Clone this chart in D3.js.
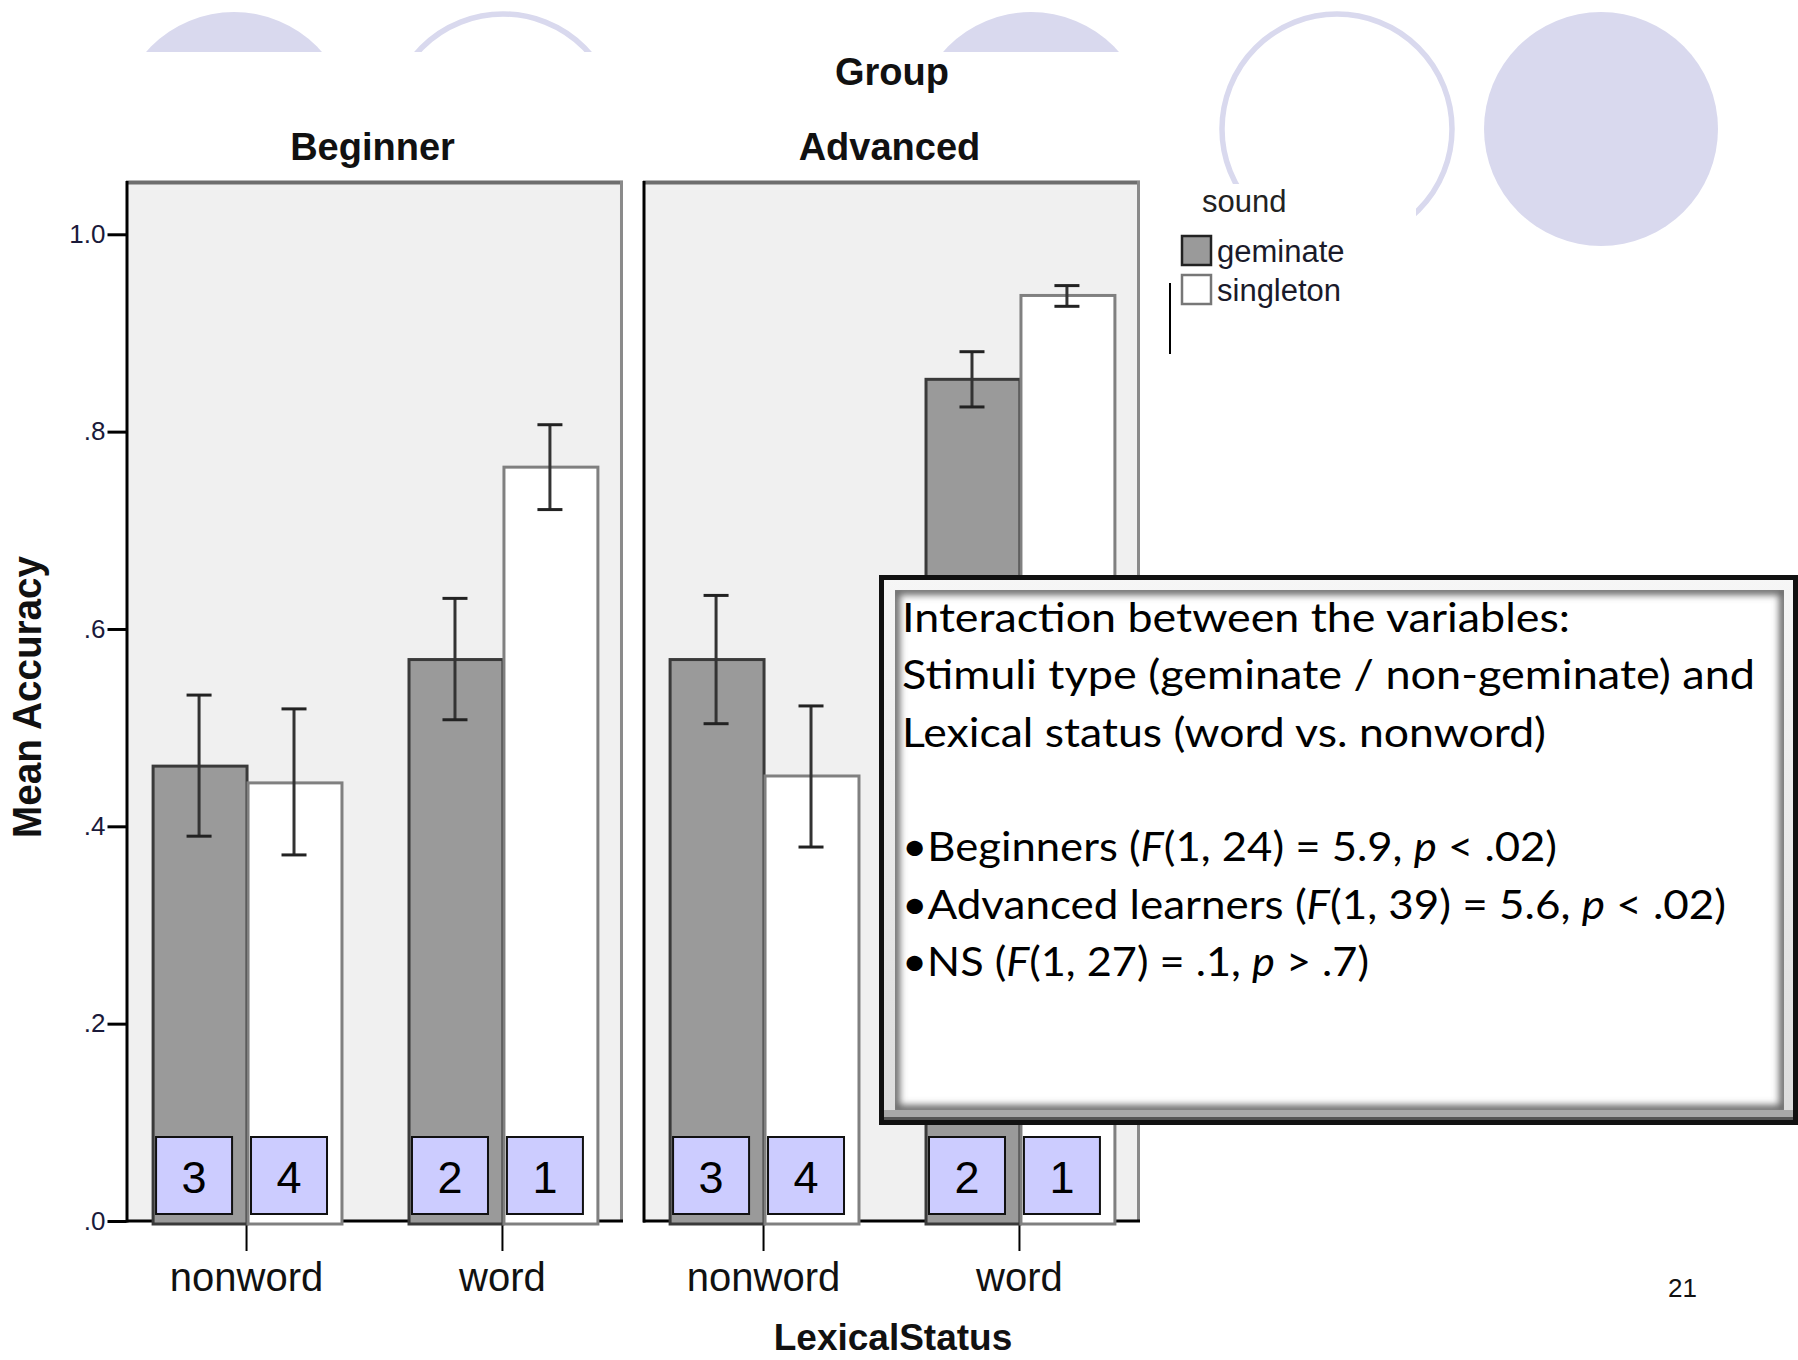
<!DOCTYPE html>
<html>
<head>
<meta charset="utf-8">
<script src="https://cdn.jsdelivr.net/npm/d3@7"></script>
<style>
  html, body { margin: 0; padding: 0; background: #ffffff; }
  svg { display: block; }
</style>
</head>
<body>
<script>
// ---------------- DATA ----------------
const groups = ["Beginner", "Advanced"];
const categories = ["nonword", "word"];
const sounds = ["geminate", "singleton"];

// mean accuracy per category (nonword, word)
const beginnerGeminate  = [0.461, 0.569];
const beginnerSingleton = [0.444, 0.764];
const advancedGeminate  = [0.569, 0.853];
const advancedSingleton = [0.451, 0.938];

// error bar lower / upper bounds (nonword, word)
const beginnerGeminateLo  = [0.390, 0.508];
const beginnerGeminateHi  = [0.533, 0.631];
const beginnerSingletonLo = [0.371, 0.721];
const beginnerSingletonHi = [0.519, 0.807];
const advancedGeminateLo  = [0.504, 0.825];
const advancedGeminateHi  = [0.634, 0.881];
const advancedSingletonLo = [0.379, 0.927];
const advancedSingletonHi = [0.522, 0.948];

// rank annotation labels per category (geminate, singleton)
const rankNonword = ["3", "4"];
const rankWord = ["2", "1"];

const yTicks = [0, 0.2, 0.4, 0.6, 0.8, 1.0];
const yTickLabels = [".0", ".2", ".4", ".6", ".8", "1.0"];

const boxLines = [
  "Interaction between the variables:",
  "Stimuli type (geminate / non-geminate) and",
  "Lexical status (word vs. nonword)",
  "",
  "•Beginners (*F*(1, 24) = 5.9, *p* < .02)",
  "•Advanced learners (*F*(1, 39) = 5.6, *p* < .02)",
  "•NS (*F*(1, 27) = .1, *p* > .7)"
];
const boxLineWidths = [668, 853, 644, 0, 655, 824, 467];

// build table
const table = {
  Beginner: {
    geminate:  { mean: beginnerGeminate,  lo: beginnerGeminateLo,  hi: beginnerGeminateHi },
    singleton: { mean: beginnerSingleton, lo: beginnerSingletonLo, hi: beginnerSingletonHi }
  },
  Advanced: {
    geminate:  { mean: advancedGeminate,  lo: advancedGeminateLo,  hi: advancedGeminateHi },
    singleton: { mean: advancedSingleton, lo: advancedSingletonLo, hi: advancedSingletonHi }
  }
};
const ranks = { nonword: rankNonword, word: rankWord };

const records = [];
groups.forEach(g => categories.forEach((c, ci) => sounds.forEach((s, si) => {
  records.push({ group: g, cat: c, sound: s,
    mean: table[g][s].mean[ci], lo: table[g][s].lo[ci], hi: table[g][s].hi[ci],
    rank: ranks[c][si] });
})));

// ---------------- LAYOUT ----------------
const W = 1798, H = 1360;
const SANS = "'Liberation Sans', Arial, sans-serif";
const BOX_FONT = "Lato, 'Open Sans', sans-serif";
const LAV = "#d9d9ee";

const svg = d3.select("body").append("svg").attr("width", W).attr("height", H);
const defs = svg.append("defs");

// background decoration: slide template circles
const deco = svg.append("g");
[[234, true], [503, false], [1031, true], [1337, false], [1601, true]].forEach(([cx, filled]) => {
  if (filled) deco.append("circle").attr("cx", cx).attr("cy", 129).attr("r", 117).attr("fill", LAV);
  else deco.append("circle").attr("cx", cx).attr("cy", 129).attr("r", 115)
    .attr("fill", "none").attr("stroke", LAV).attr("stroke-width", 5.5);
});
// white chart image areas over decoration
svg.append("rect").attr("x", 0).attr("y", 52).attr("width", 1216).attr("height", H - 52).attr("fill", "#fff");
svg.append("rect").attr("x", 1160).attr("y", 184).attr("width", 256).attr("height", H - 184).attr("fill", "#fff");

// scales
const panelTop = 181, baseY = 1221;
const y = d3.scaleLinear().domain([0, 1.054]).range([baseY, panelTop]);
const fx = d3.scaleBand().domain(groups).range([126, 1140]).paddingInner(0.0387);
const pw = fx.bandwidth();
const x0 = d3.scaleBand().domain(categories).range([0, pw]).paddingInner(0.258).paddingOuter(0.1);
const x1 = d3.scaleBand().domain(sounds).range([0, x0.bandwidth()]);
const fill = d3.scaleOrdinal().domain(sounds).range(["#9a9a9a", "#ffffff"]);
const edge = d3.scaleOrdinal().domain(sounds).range(["#3a3a3a", "#808080"]);

// titles
svg.append("text").attr("x", 892).attr("y", 85).attr("text-anchor", "middle")
  .attr("font-family", SANS).attr("font-weight", "bold").attr("font-size", 38).attr("fill", "#111").text("Group");

groups.forEach(g => {
  const px = fx(g);
  const pg = svg.append("g").attr("transform", `translate(${px},0)`);
  pg.append("text").attr("x", pw / 2 - 2).attr("y", 160).attr("text-anchor", "middle")
    .attr("font-family", SANS).attr("font-weight", "bold").attr("font-size", 38).attr("fill", "#111").text(g);

  // panel background
  pg.append("rect").attr("x", 0).attr("y", panelTop).attr("width", pw).attr("height", baseY - panelTop)
    .attr("fill", "#f0f0f0");
  // top & right border (gray), left border (black)
  pg.append("line").attr("x1", 0).attr("x2", pw).attr("y1", panelTop + 1.5).attr("y2", panelTop + 1.5)
    .attr("stroke", "#6e6e6e").attr("stroke-width", 4);
  pg.append("line").attr("x1", pw - 1.5).attr("x2", pw - 1.5).attr("y1", panelTop).attr("y2", baseY)
    .attr("stroke", "#8a8a8a").attr("stroke-width", 3);
  pg.append("line").attr("x1", 1).attr("x2", 1).attr("y1", panelTop).attr("y2", baseY + 1.5)
    .attr("stroke", "#000").attr("stroke-width", 3);

  // x axis
  const xa = pg.append("g").attr("transform", `translate(0,${baseY})`)
    .call(d3.axisBottom(x0).tickSize(30).tickPadding(12));
  xa.select(".domain").remove();
  xa.selectAll(".tick line").attr("stroke", "#000").attr("stroke-width", 2);
  xa.selectAll(".tick text").attr("font-family", SANS).attr("font-size", 40).attr("fill", "#111");
  pg.append("line").attr("x1", 0).attr("x2", pw).attr("y1", baseY).attr("y2", baseY)
    .attr("stroke", "#000").attr("stroke-width", 3);

  const recs = records.filter(r => r.group === g);
  const bx = r => x0(r.cat) + x1(r.sound);

  // bars
  pg.selectAll("rect.bar").data(recs).join("rect").attr("class", "bar")
    .attr("x", r => bx(r) + 1.5).attr("y", r => y(r.mean))
    .attr("width", x1.bandwidth() - 1).attr("height", r => y(0) - y(r.mean) + 3)
    .attr("fill", r => fill(r.sound)).attr("stroke", r => edge(r.sound)).attr("stroke-width", 3);

  // error bars
  const eb = pg.selectAll("g.err").data(recs).join("g").attr("class", "err")
    .attr("transform", r => `translate(${bx(r) + x1.bandwidth() / 2},0)`);
  eb.append("line").attr("x1", 0).attr("x2", 0).attr("y1", r => y(r.lo)).attr("y2", r => y(r.hi))
    .attr("stroke", "#333").attr("stroke-width", 3);
  eb.append("line").attr("x1", -12.5).attr("x2", 12.5).attr("y1", r => y(r.lo)).attr("y2", r => y(r.lo))
    .attr("stroke", "#222").attr("stroke-width", 3);
  eb.append("line").attr("x1", -12.5).attr("x2", 12.5).attr("y1", r => y(r.hi)).attr("y2", r => y(r.hi))
    .attr("stroke", "#222").attr("stroke-width", 3);

  // rank boxes
  const rb = pg.selectAll("g.rank").data(recs).join("g").attr("class", "rank")
    .attr("transform", r => `translate(${bx(r) + x1.bandwidth() / 2 - 5},0)`);
  rb.append("rect").attr("x", -38).attr("y", 1137).attr("width", 76).attr("height", 77)
    .attr("fill", "#ccccff").attr("stroke", "#111").attr("stroke-width", 2);
  rb.append("text").attr("x", 0).attr("y", 1193).attr("text-anchor", "middle")
    .attr("font-family", SANS).attr("font-size", 45).attr("fill", "#000").text(r => r.rank);
});

// y axis
const ya = svg.append("g").attr("transform", `translate(${fx(groups[0]) + 0.5},0)`)
  .call(d3.axisLeft(y).tickValues(yTicks).tickFormat((d, i) => yTickLabels[i]).tickSize(19).tickPadding(2));
ya.select(".domain").remove();
ya.selectAll(".tick line").attr("stroke", "#000").attr("stroke-width", 3);
ya.selectAll(".tick text").attr("font-family", SANS).attr("font-size", 26).attr("fill", "#1a1a3a");

svg.append("text").attr("transform", "translate(41,697) rotate(-90)").attr("text-anchor", "middle")
  .attr("font-family", SANS).attr("font-weight", "bold").attr("font-size", 40).attr("fill", "#111")
  .attr("textLength", 282).attr("lengthAdjust", "spacingAndGlyphs").text("Mean Accuracy");

svg.append("text").attr("x", 893).attr("y", 1350).attr("text-anchor", "middle")
  .attr("font-family", SANS).attr("font-weight", "bold").attr("font-size", 37).attr("fill", "#111")
  .text("LexicalStatus");

// legend
const lg = svg.append("g");
lg.append("text").attr("x", 1202).attr("y", 212).attr("font-family", SANS).attr("font-size", 31)
  .attr("fill", "#222").text("sound");
sounds.forEach((s, i) => {
  lg.append("rect").attr("x", 1182).attr("y", 236 + i * 39).attr("width", 29).attr("height", 29)
    .attr("fill", fill(s)).attr("stroke", i === 0 ? "#222" : "#777").attr("stroke-width", 2.5);
  lg.append("text").attr("x", 1217).attr("y", 262 + i * 39).attr("font-family", SANS).attr("font-size", 31)
    .attr("fill", "#1a1a2a").text(s);
});
lg.append("line").attr("x1", 1170).attr("x2", 1170).attr("y1", 283).attr("y2", 354)
  .attr("stroke", "#000").attr("stroke-width", 2);

// slide number
svg.append("text").attr("x", 1668).attr("y", 1297).attr("font-family", SANS).attr("font-size", 26)
  .attr("fill", "#111").text("21");

// ---------------- TEXT BOX ----------------
const bxo = { x0: 881.5, y0: 577.5, x1: 1795.5, y1: 1122.5 };
const inner = { x0: 895, y0: 590, x1: 1784, y1: 1110 };
const blur = defs.append("filter").attr("id", "blurIn").attr("x", "-5%").attr("y", "-5%")
  .attr("width", "110%").attr("height", "110%");
blur.append("feGaussianBlur").attr("stdDeviation", 3.5);
defs.append("clipPath").attr("id", "innerClip").append("rect")
  .attr("x", inner.x0).attr("y", inner.y0).attr("width", inner.x1 - inner.x0).attr("height", inner.y1 - inner.y0);
const bandGrad = defs.append("linearGradient").attr("id", "bandGrad").attr("x1", 0).attr("y1", 0).attr("x2", 0).attr("y2", 1);
bandGrad.append("stop").attr("offset", "0%").attr("stop-color", "#f6f6f6");
bandGrad.append("stop").attr("offset", "100%").attr("stop-color", "#dcdcdc");

const tb = svg.append("g");
tb.append("rect").attr("x", bxo.x0).attr("y", bxo.y0).attr("width", bxo.x1 - bxo.x0).attr("height", bxo.y1 - bxo.y0)
  .attr("fill", "url(#bandGrad)").attr("stroke", "#111").attr("stroke-width", 5);
// bottom outer bevel (darker)
tb.append("rect").attr("x", 884).attr("y", 1110).attr("width", 909).attr("height", 10).attr("fill", "#a8a8a8");
tb.append("rect").attr("x", 884).attr("y", 1117).attr("width", 909).attr("height", 3).attr("fill", "#555");
tb.append("rect").attr("x", inner.x0).attr("y", inner.y0).attr("width", inner.x1 - inner.x0).attr("height", inner.y1 - inner.y0)
  .attr("fill", "#fff");
tb.append("g").attr("clip-path", "url(#innerClip)").append("rect")
  .attr("x", inner.x0).attr("y", inner.y0).attr("width", inner.x1 - inner.x0).attr("height", inner.y1 - inner.y0)
  .attr("fill", "none").attr("stroke", "#6a6a6a").attr("stroke-width", 10).attr("filter", "url(#blurIn)");

boxLines.forEach((line, i) => {
  if (!line) return;
  const t = tb.append("text").attr("x", 902).attr("y", 632 + i * 57.3)
    .attr("font-family", BOX_FONT).attr("font-size", 41).attr("fill", "#000")
    .attr("textLength", boxLineWidths[i]).attr("lengthAdjust", "spacingAndGlyphs");
  line.split("*").forEach((part, k) => {
    if (!part) return;
    t.append("tspan").attr("font-style", k % 2 === 1 ? "italic" : "normal").text(part);
  });
});
</script>
</body>
</html>
